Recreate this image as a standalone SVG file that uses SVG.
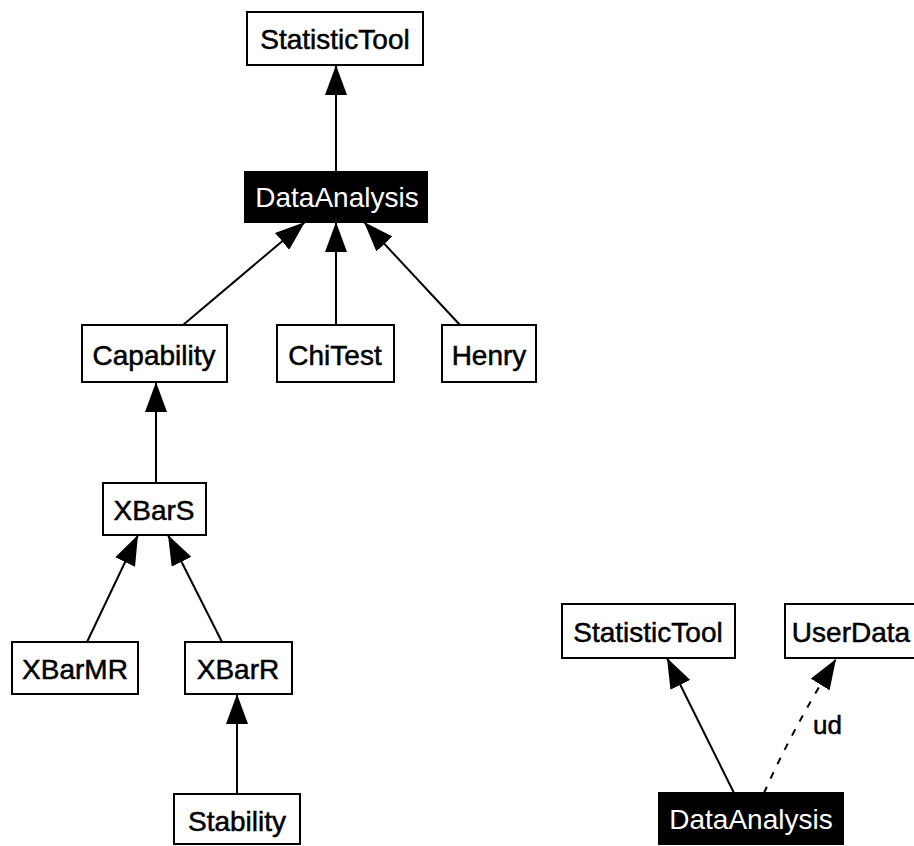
<svg xmlns="http://www.w3.org/2000/svg" width="914" height="846" viewBox="0 0 914 846">
  <style>
    .box { fill: #fff; stroke: #000; stroke-width: 2; }
    .dark { fill: #000; stroke: #000; stroke-width: 2; }
    .lbl { font-family: "Liberation Sans", Arial, sans-serif; font-size: 28px; fill: #000; stroke: #000; stroke-width: 0.5; text-anchor: middle; }
    .lbl-inv { font-family: "Liberation Sans", Arial, sans-serif; font-size: 28px; fill: #fff; text-anchor: middle; }
    .edge { fill: none; stroke: #000; stroke-width: 2; marker-end: url(#tri); }
    .dep { stroke-dasharray: 7 9; }
    .tag { font-family: "Liberation Sans", Arial, sans-serif; font-size: 26px; fill: #000; stroke: #000; stroke-width: 0.5; }
  </style>
  <defs>
    <marker id="tri" viewBox="0 0 30 22" refX="30" refY="11" markerWidth="30" markerHeight="22" markerUnits="userSpaceOnUse" orient="auto">
      <path d="M0,0 L30,11 L0,22 Z" fill="#000"/>
    </marker>
  </defs>
  <rect width="914" height="846" fill="#fff"/>

  <!-- connectors -->
  <g id="connectors">
    <line class="edge" x1="336" y1="172" x2="336" y2="65"/>
    <line class="edge" x1="183" y1="325" x2="305" y2="222"/>
    <line class="edge" x1="336" y1="325" x2="336" y2="222"/>
    <line class="edge" x1="460" y1="325" x2="364" y2="222"/>
    <line class="edge" x1="156" y1="483" x2="156" y2="382"/>
    <line class="edge" x1="87" y1="642" x2="138" y2="535"/>
    <line class="edge" x1="222" y1="642" x2="168" y2="535"/>
    <line class="edge" x1="237" y1="794" x2="237" y2="694"/>
    <line class="edge" x1="734" y1="793" x2="667" y2="658"/>
    <path class="edge dep" d="M764,793 Q792,730 836,659"/>
    <text class="tag" x="813" y="734">ud</text>
  </g>

  <!-- hierarchy of DataAnalysis -->
  <g id="statistictool">
    <rect class="box" x="247" y="12" width="176" height="53"/>
    <text class="lbl" x="335" y="49">StatisticTool</text>
  </g>
  <g id="dataanalysis">
    <rect class="dark" x="245" y="172" width="182" height="50"/>
    <text class="lbl-inv" x="337" y="207">DataAnalysis</text>
  </g>
  <g id="capability">
    <rect class="box" x="82" y="325" width="145" height="57"/>
    <text class="lbl" x="154" y="365">Capability</text>
  </g>
  <g id="chitest">
    <rect class="box" x="277" y="325" width="117" height="57"/>
    <text class="lbl" x="335" y="365">ChiTest</text>
  </g>
  <g id="henry">
    <rect class="box" x="442" y="325" width="94" height="57"/>
    <text class="lbl" x="489" y="365">Henry</text>
  </g>
  <g id="xbars">
    <rect class="box" x="103" y="483" width="103" height="52"/>
    <text class="lbl" x="154" y="520">XBarS</text>
  </g>
  <g id="xbarmr">
    <rect class="box" x="12" y="642" width="126" height="52"/>
    <text class="lbl" x="75" y="679">XBarMR</text>
  </g>
  <g id="xbarr">
    <rect class="box" x="185" y="642" width="107" height="52"/>
    <text class="lbl" x="238" y="679">XBarR</text>
  </g>
  <g id="stability">
    <rect class="box" x="174" y="794" width="126" height="50"/>
    <text class="lbl" x="237" y="831">Stability</text>
  </g>

  <!-- DataAnalysis associations -->
  <g id="statistictool-2">
    <rect class="box" x="562" y="604" width="173" height="54"/>
    <text class="lbl" x="648" y="642">StatisticTool</text>
  </g>
  <g id="userdata">
    <rect class="box" x="785" y="604" width="140" height="54"/>
    <text class="lbl" x="851" y="642">UserData</text>
  </g>
  <g id="dataanalysis-2">
    <rect class="dark" x="659" y="793" width="184" height="51"/>
    <text class="lbl-inv" x="751" y="829">DataAnalysis</text>
  </g>
</svg>
